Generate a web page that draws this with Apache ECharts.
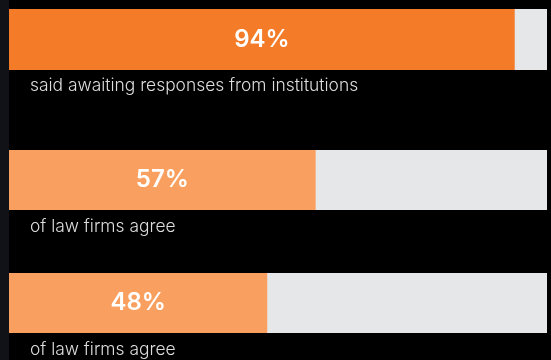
<!DOCTYPE html>
<html>
<head>
<meta charset="utf-8">
<style>
  html, body { margin: 0; padding: 0; background: #000; }
  #chart { width: 551px; height: 360px; }
</style>
<script src="https://cdn.jsdelivr.net/npm/echarts@6/dist/echarts.min.js"></script>
</head>
<body>
<div id="chart"></div>
<script>
// Survey results, one horizontal gauge bar per statement
const statements = ['Awaiting responses', 'Law firms agree (A)', 'Law firms agree (B)'];
const percentages = [94, 57, 48];
const captions = [
  'said awaiting responses from institutions',
  'of law firms agree',
  'of law firms agree'
];

const barColors = ['#F47B28', '#F9A060', '#F9A060'];
const gridTops = [9, 150, 273];
const gridHeights = [61, 60, 60];
const captionTops = [76, 217, 340];

const chart = echarts.init(document.getElementById('chart'), null, { renderer: 'canvas' });

const grids = [], xAxes = [], yAxes = [], series = [], titles = [];
percentages.forEach((v, i) => {
  grids.push({ left: 9, right: 4, top: gridTops[i], height: gridHeights[i], containLabel: false });
  xAxes.push({ type: 'value', gridIndex: i, min: 0, max: 100, show: false });
  yAxes.push({ type: 'category', gridIndex: i, data: [statements[i]], show: false });
  series.push({
    type: 'bar',
    xAxisIndex: i,
    yAxisIndex: i,
    data: [v],
    barWidth: '100%',
    showBackground: true,
    backgroundStyle: { color: '#E6E7E8' },
    itemStyle: { color: barColors[i] },
    silent: true,
    label: {
      show: true,
      position: 'inside',
      formatter: p => p.value + '%',
      color: '#ffffff',
      fontFamily: 'Inter',
      fontSize: 24,
      fontWeight: 600
    }
  });
  titles.push({
    text: captions[i],
    left: 30,
    top: captionTops[i],
    padding: 0,
    textStyle: {
      color: '#DEDEDE',
      fontFamily: 'Inter',
      fontSize: 17.4,
      fontWeight: 300,
      lineHeight: 20
    }
  });
});

chart.setOption({
  backgroundColor: '#000000',
  animation: false,
  title: titles,
  grid: grids,
  xAxis: xAxes,
  yAxis: yAxes,
  series: series,
  graphic: [{
    type: 'rect',
    left: 0, top: 0,
    shape: { width: 9, height: 360 },
    style: { fill: '#111217' },
    silent: true
  }]
});
</script>
</body>
</html>
